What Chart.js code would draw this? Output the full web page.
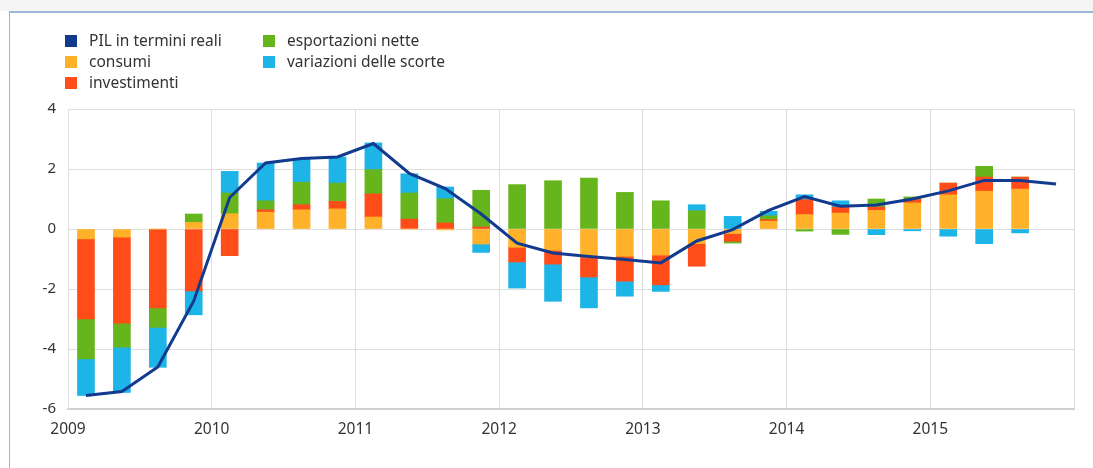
<!DOCTYPE html>
<html>
<head>
<meta charset="utf-8">
<script src="https://cdn.jsdelivr.net/npm/chart.js@4.4.1/dist/chart.umd.min.js"></script>
<style>
    html, body { margin: 0; padding: 0; background: #fff; }
    body { width: 1093px; height: 468px; position: relative; overflow: hidden; font-family: "Noto Sans", sans-serif; color: #333; }
    .topband { position: absolute; left: 0; top: 0; width: 1093px; height: 11px; background: #f5f5f5; }
    .frame { position: absolute; left: 9px; top: 11px; width: 1100px; height: 480px; border-top: 2px solid #9cb6dd; border-left: 1px solid #9cb6dd; }
    #chartBox { position: absolute; left: 0; top: 0; width: 1093px; height: 468px; }
    .legend { position: absolute; font-size: 15.5px; line-height: 21px; }
    .legend div { position: relative; padding-left: 24px; white-space: nowrap; }
    .legend span { position: absolute; left: 0; top: 5px; width: 12px; height: 12px; }
</style>
</head>
<body>
<div class="topband"></div>
<div class="frame"></div>
<div id="chartBox"><canvas id="pilChart" width="1093" height="468"></canvas></div>
<div class="legend" id="legCol1" style="left:65px; top:30px;"></div>
<div class="legend" id="legCol2" style="left:263px; top:30px;"></div>
<script>
// anni sull'asse x (un trimestre = 1 unità)
var years = ['2009', '2010', '2011', '2012', '2013', '2014', '2015'];

// contributi trimestrali alla crescita del PIL (punti percentuali)
var consumi = [-0.33, -0.27, 0, 0.22, 0.51, 0.56, 0.64, 0.67, 0.4, 0, -0.03, -0.5, -0.61, -0.71, -0.93, -0.91, -0.87, -0.49, -0.15, 0.26, 0.48, 0.53, 0.62, 0.87, 1.14, 1.26, 1.33, null];
var investimenti = [-2.67, -2.87, -2.63, -2.06, -0.89, 0.08, 0.17, 0.25, 0.77, 0.33, 0.2, 0.07, -0.49, -0.46, -0.67, -0.83, -0.99, -0.75, -0.26, 0.05, 0.5, 0.2, 0.11, 0.11, 0.39, 0.47, 0.4, null];
var esportazioni = [-1.33, -0.8, -0.65, 0.28, 0.69, 0.3, 0.75, 0.61, 0.81, 0.87, 0.81, 1.22, 1.48, 1.61, 1.7, 1.22, 0.94, 0.61, -0.06, 0.13, -0.07, -0.18, 0.27, 0.09, 0, 0.36, 0, null];
var scorte = [-1.22, -1.51, -1.33, -0.8, 0.72, 1.26, 0.77, 0.87, 0.89, 0.64, 0.39, -0.28, -0.87, -1.24, -1.03, -0.5, -0.22, 0.2, 0.42, 0.15, 0.16, 0.21, -0.19, -0.06, -0.24, -0.49, -0.13, null];
var pil = [-5.55, -5.42, -4.6, -2.4, 1.05, 2.2, 2.35, 2.4, 2.85, 1.85, 1.35, 0.5, -0.47, -0.8, -0.92, -1.02, -1.13, -0.4, -0.02, 0.62, 1.08, 0.76, 0.8, 1.0, 1.27, 1.62, 1.62, 1.5];

var colors = {
    pil: '#123b8f',
    consumi: '#ffb12a',
    investimenti: '#ff4d1a',
    esportazioni: '#67b51c',
    scorte: '#1db4e8'
};

function toPoints(arr) {
    return arr.map(function (v, i) { return { x: i + 0.5, y: v }; });
}

function barSet(label, arr, color) {
    return {
        type: 'bar',
        label: label,
        data: toPoints(arr),
        backgroundColor: color,
        borderWidth: 0,
        barThickness: 17,
        order: 1
    };
}

var datasets = [
    {
        type: 'line',
        label: 'PIL in termini reali',
        data: toPoints(pil),
        borderColor: colors.pil,
        backgroundColor: colors.pil,
        borderWidth: 3,
        pointRadius: 0,
        tension: 0,
        fill: false,
        order: 0
    },
    barSet('consumi', consumi, colors.consumi),
    barSet('investimenti', investimenti, colors.investimenti),
    barSet('esportazioni nette', esportazioni, colors.esportazioni),
    barSet('variazioni delle scorte', scorte, colors.scorte)
];

const ctx = document.getElementById('pilChart').getContext('2d');
new Chart(ctx, {
    data: { datasets: datasets },
    options: {
        responsive: false,
        animation: false,
        layout: { padding: { left: 10, right: 19, top: 109, bottom: 0 } },
        plugins: {
            legend: { display: false },
            tooltip: { enabled: false }
        },
        scales: {
            x: {
                type: 'linear',
                stacked: true,
                min: 0,
                max: 28,
                offset: false,
                grid: { offset: false, color: '#dedede', drawTicks: false },
                border: { color: '#cfcfcf', width: 2 },
                ticks: {
                    stepSize: 4,
                    padding: 11,
                    color: '#333',
                    font: { family: 'Noto Sans', size: 15.5 },
                    callback: function (value) {
                        var idx = value / 4;
                        return years[idx] !== undefined ? years[idx] : '';
                    }
                },
                afterFit: function (scale) { scale.height = 59; }
            },
            y: {
                stacked: true,
                min: -6,
                max: 4,
                grid: { color: '#dedede', drawTicks: false },
                border: { color: '#dedede' },
                ticks: {
                    stepSize: 2,
                    padding: 12,
                    color: '#333',
                    font: { family: 'Noto Sans', size: 15 }
                },
                afterFit: function (scale) { scale.width = 58; }
            }
        }
    }
});

// legenda su due colonne
function legendItem(label, color) {
    return '<div><span style="background:' + color + '"></span>' + label + '</div>';
}
document.getElementById('legCol1').innerHTML =
    legendItem(datasets[0].label, colors.pil) +
    legendItem(datasets[1].label, colors.consumi) +
    legendItem(datasets[2].label, colors.investimenti);
document.getElementById('legCol2').innerHTML =
    legendItem(datasets[3].label, colors.esportazioni) +
    legendItem(datasets[4].label, colors.scorte);
</script>
</body>
</html>
